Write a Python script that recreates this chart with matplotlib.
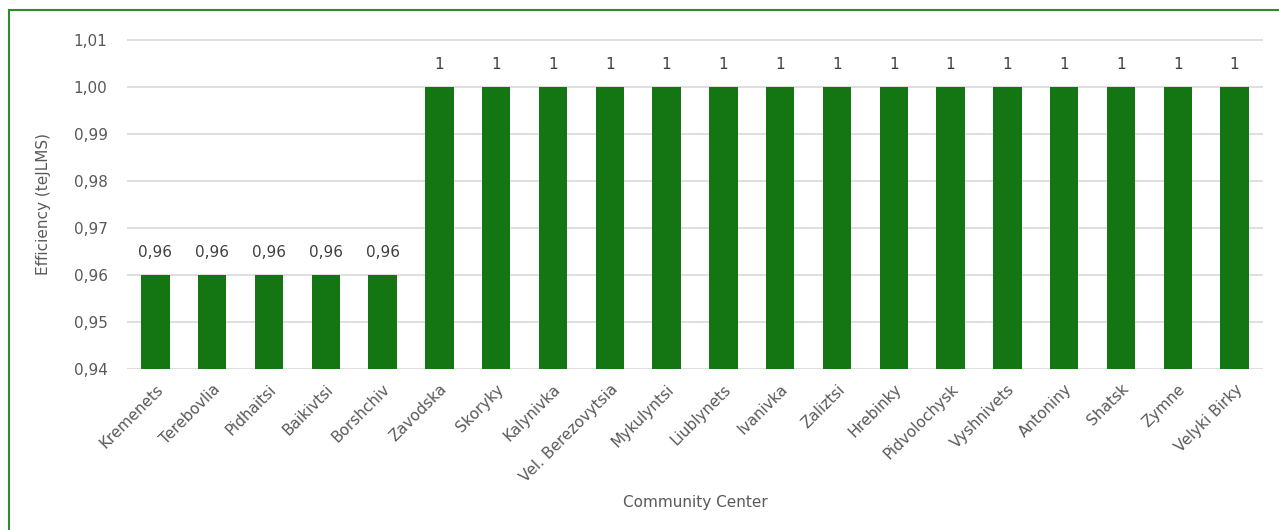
import matplotlib.pyplot as plt
from matplotlib.patches import Rectangle
from matplotlib.ticker import FuncFormatter

# Data
centers = ['Kremenets', 'Terebovlia', 'Pidhaitsi', 'Baikivtsi', 'Borshchiv',
           'Zavodska', 'Skoryky', 'Kalynivka', 'Vel. Berezovytsia', 'Mykulyntsi',
           'Liublynets', 'Ivanivka', 'Zaliztsi', 'Hrebinky', 'Pidvolochysk',
           'Vyshnivets', 'Antoniny', 'Shatsk', 'Zymne', 'Velyki Birky']
efficiency = [0.96, 0.96, 0.96, 0.96, 0.96,
              1, 1, 1, 1, 1, 1, 1, 1, 1, 1, 1, 1, 1, 1, 1]
value_labels = ['0,96'] * 5 + ['1'] * 15

text_color = '#595959'
bar_color = '#137613'
grid_color = '#d9d9d9'

plt.rcParams['font.family'] = ['DejaVu Sans']

fig = plt.figure(figsize=(12.79, 5.30), dpi=100)
ax = fig.add_axes([127 / 1279, 1 - 369 / 530, (1263 - 127) / 1279, (369 - 39) / 530])

x = range(len(centers))
bars = ax.bar(x, efficiency, width=0.5, color=bar_color, zorder=2)

ax.set_ylim(0.94, 1.0102)
ax.set_xlim(-0.5, len(centers) - 0.5)
ax.set_yticks([0.94, 0.95, 0.96, 0.97, 0.98, 0.99, 1.00, 1.01])
ax.yaxis.set_major_formatter(FuncFormatter(lambda v, p: f'{v:.2f}'.replace('.', ',')))
ax.grid(axis='y', color=grid_color, linewidth=1.2, zorder=0)
for s in ax.spines.values():
    s.set_visible(False)
ax.tick_params(axis='both', length=0, colors=text_color, labelsize=11)
ax.tick_params(axis='y', pad=14)
ax.tick_params(axis='x', pad=9)

ax.set_xticks(list(x))
ax.set_xticklabels(centers, rotation=45, ha='right', rotation_mode='anchor')

for b, lab in zip(bars, value_labels):
    ax.annotate(lab, (b.get_x() + b.get_width() / 2, b.get_height()),
                xytext=(0, 11), textcoords='offset points', ha='center', va='bottom',
                fontsize=11, color='#404040')

ax.set_xlabel('Community Center', fontsize=11, color=text_color, labelpad=7)
ax.set_ylabel('Efficiency (teJLMS)', fontsize=11, color=text_color, labelpad=16)

# green frame around the chart area
fig.patches.append(Rectangle((9 / 1279, -0.1), 1.1, 1 - 9.5 / 530 + 0.1,
                             transform=fig.transFigure, fill=False,
                             edgecolor='#2e8b2e', linewidth=1.5))

fig.savefig('out.png', dpi=100)
